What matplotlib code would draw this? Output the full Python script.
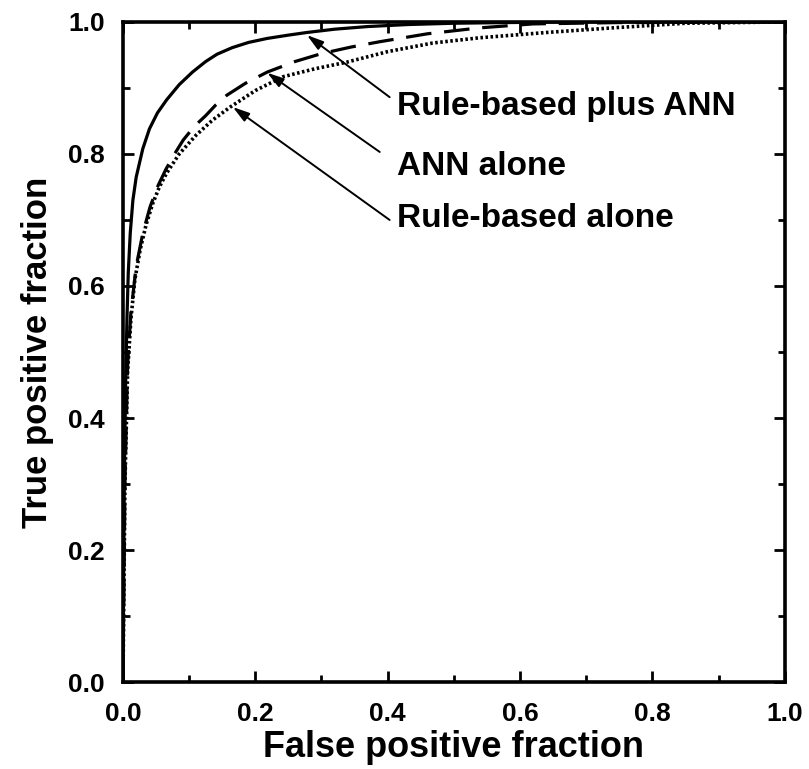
import matplotlib.pyplot as plt
from matplotlib.ticker import MultipleLocator

plt.rcParams['font.family'] = ['Liberation Sans', 'DejaVu Sans']
plt.rcParams['font.weight'] = 'bold'

# ROC curves (false positive fraction, true positive fraction)
fpr_combined = [0.0, 0.002, 0.004, 0.006, 0.008, 0.011, 0.015, 0.020, 0.030, 0.040,
                0.052, 0.066, 0.085, 0.105, 0.125, 0.142, 0.165, 0.19, 0.218, 0.25,
                0.278, 0.32, 0.37, 0.43, 0.50, 0.58, 0.68, 0.80, 1.0]
tpr_combined = [0.0, 0.30, 0.45, 0.55, 0.62, 0.680, 0.730, 0.765, 0.808, 0.838,
                0.862, 0.882, 0.905, 0.924, 0.940, 0.951, 0.961, 0.969, 0.975, 0.980,
                0.984, 0.989, 0.993, 0.996, 0.998, 0.999, 1.0, 1.0, 1.0]

fpr_ann = [0.0, 0.003, 0.007, 0.012, 0.020, 0.030, 0.041, 0.053, 0.065, 0.078,
           0.091, 0.108, 0.125, 0.140, 0.157, 0.185, 0.218, 0.26, 0.30, 0.345,
           0.388, 0.46, 0.539, 0.62, 0.75, 1.0]
tpr_ann = [0.0, 0.30, 0.48, 0.56, 0.63, 0.68, 0.720, 0.752, 0.777, 0.800,
           0.821, 0.842, 0.858, 0.874, 0.889, 0.907, 0.924, 0.940, 0.952, 0.962,
           0.970, 0.982, 0.991, 0.997, 0.999, 1.0]

fpr_rule = [0.0, 0.003, 0.007, 0.012, 0.018, 0.026, 0.035, 0.045, 0.055, 0.066,
            0.085, 0.11, 0.135, 0.162, 0.20, 0.242, 0.29, 0.338, 0.40, 0.468,
            0.539, 0.64, 0.740, 0.85, 1.0]
tpr_rule = [0.0, 0.30, 0.47, 0.55, 0.61, 0.655, 0.693, 0.725, 0.750, 0.771,
            0.800, 0.828, 0.851, 0.871, 0.896, 0.917, 0.929, 0.939, 0.955, 0.968,
            0.976, 0.984, 0.991, 0.998, 1.0]

labels = ['Rule-based plus ANN', 'ANN alone', 'Rule-based alone']
# arrow heads (on curve) and tails (near the text)
arrow_heads = [(0.278, 0.980), (0.218, 0.923), (0.166, 0.871)]
arrow_tails = [(0.403, 0.886), (0.388, 0.803), (0.403, 0.700)]
label_pos = [(0.414, 0.859), (0.414, 0.768), (0.414, 0.689)]

fig = plt.figure(figsize=(8.09, 7.69), dpi=100)
ax = fig.add_axes([0.152, 0.113, 0.818, 0.8585])

lw = 2.3
ax.plot(fpr_combined, tpr_combined, color='black', lw=lw, solid_capstyle='butt')
ax.plot(fpr_ann, tpr_ann, color='black', lw=lw, linestyle=(0, (8, 4)))
ax.plot(fpr_rule, tpr_rule, color='black', lw=2.6, linestyle=(0, (0.7, 0.7)))

for lab, head, tail, pos in zip(labels, arrow_heads, arrow_tails, label_pos):
    ax.annotate('', xy=head, xytext=tail,
                arrowprops=dict(arrowstyle='-|>,head_length=1.0,head_width=0.3',
                                color='black', lw=1.4, shrinkA=0, shrinkB=0))
    ax.text(pos[0], pos[1], lab, fontsize=24, fontweight='bold', va='baseline', ha='left')

ax.set_xlim(0, 1)
ax.set_ylim(0, 1)
ax.xaxis.set_major_locator(MultipleLocator(0.2))
ax.xaxis.set_minor_locator(MultipleLocator(0.1))
ax.yaxis.set_major_locator(MultipleLocator(0.2))
ax.yaxis.set_minor_locator(MultipleLocator(0.1))
ax.tick_params(which='both', direction='in', top=True, right=True, width=2, labelsize=19)
ax.tick_params(which='major', length=8)
ax.tick_params(which='minor', length=5)
ax.tick_params(axis='x', pad=14)
ax.tick_params(axis='y', pad=13)
for lab in ax.get_xticklabels() + ax.get_yticklabels():
    lab.set_fontweight('bold')
for sp in ax.spines.values():
    sp.set_linewidth(2.6)

ax.set_xlabel('False positive fraction', fontsize=26, fontweight='bold', labelpad=3)
ax.set_ylabel('True positive fraction', fontsize=25, fontweight='bold', labelpad=10)

fig.savefig('out.png', dpi=100)
